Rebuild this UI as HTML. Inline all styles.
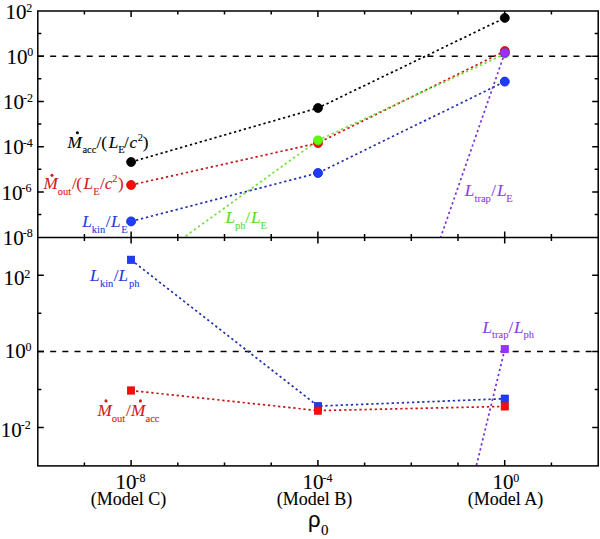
<!DOCTYPE html><html><head><meta charset="utf-8"><style>html,body{margin:0;padding:0;background:#fff;}svg{display:block;}text{font-family:"Liberation Serif",serif;stroke:currentColor;stroke-width:0.1px;}</style></head><body>
<svg width="600" height="539" viewBox="0 0 600 539">
<defs><clipPath id="ct"><rect x="37.80" y="11.00" width="560.40" height="226.45"/></clipPath>
<clipPath id="cb"><rect x="37.80" y="237.45" width="560.40" height="228.45"/></clipPath></defs>
<line x1="38" y1="56.24" x2="598.20" y2="56.24" stroke="#000" stroke-width="1.5" stroke-dasharray="6 6.17"/>
<line x1="38" y1="351.40" x2="598.20" y2="351.40" stroke="#000" stroke-width="1.5" stroke-dasharray="6 6.17"/>
<path d="M131.10 162.00 L318.00 108.00 L504.80 17.90" fill="none" stroke="#000" stroke-width="1.7" stroke-dasharray="2.3 2.8" clip-path="url(#ct)"/>
<path d="M131.10 185.00 L318.00 143.10 L504.80 51.00" fill="none" stroke="#c41616" stroke-width="1.7" stroke-dasharray="2.3 2.8" clip-path="url(#ct)"/>
<path d="M152.58 260.00 L318.00 140.40 L505.20 53.80" fill="none" stroke="#70e03c" stroke-width="1.7" stroke-dasharray="2.3 2.8" clip-path="url(#ct)"/>
<path d="M131.10 221.40 L318.00 173.00 L504.80 81.60" fill="none" stroke="#2230a8" stroke-width="1.7" stroke-dasharray="2.3 2.8" clip-path="url(#ct)"/>
<path d="M504.80 52.90 L440.70 237.20 L420.00 297.00" fill="none" stroke="#7a2ed0" stroke-width="1.7" stroke-dasharray="2.3 2.8" clip-path="url(#ct)"/>
<circle cx="131.10" cy="162.00" r="4.50" fill="#000" stroke="#000" stroke-width="0.8"/>
<circle cx="318.00" cy="108.00" r="4.50" fill="#000" stroke="#000" stroke-width="0.8"/>
<circle cx="504.80" cy="17.90" r="4.50" fill="#000" stroke="#000" stroke-width="0.8"/>
<circle cx="131.10" cy="185.00" r="4.50" fill="#ff0a0a" stroke="#d80000" stroke-width="0.8"/>
<circle cx="318.00" cy="143.10" r="4.50" fill="#ff0a0a" stroke="#d80000" stroke-width="0.8"/>
<circle cx="504.80" cy="51.00" r="4.50" fill="#ff0a0a" stroke="#d80000" stroke-width="0.8"/>
<circle cx="131.10" cy="221.40" r="4.50" fill="#1e3cff" stroke="#0a1ed2" stroke-width="0.8"/>
<circle cx="318.00" cy="173.00" r="4.50" fill="#1e3cff" stroke="#0a1ed2" stroke-width="0.8"/>
<circle cx="504.80" cy="81.60" r="4.50" fill="#1e3cff" stroke="#0a1ed2" stroke-width="0.8"/>
<circle cx="318.00" cy="140.40" r="4.50" fill="#5cff0c" stroke="#4ae000" stroke-width="0.8"/>
<circle cx="505.00" cy="53.40" r="4.50" fill="#5cff0c" stroke="#4ae000" stroke-width="0.8"/>
<circle cx="504.80" cy="52.90" r="4.50" fill="#9a30ff" stroke="#8020e0" stroke-width="0.8"/>
<path d="M131.00 259.80 L318.00 406.10 L504.80 398.70" fill="none" stroke="#2230a8" stroke-width="1.7" stroke-dasharray="2.3 2.8" clip-path="url(#cb)"/>
<path d="M131.00 390.50 L318.00 410.60 L504.80 406.40" fill="none" stroke="#c41616" stroke-width="1.7" stroke-dasharray="2.3 2.8" clip-path="url(#cb)"/>
<path d="M504.80 349.10 L476.40 465.60 L470.00 492.00" fill="none" stroke="#7a2ed0" stroke-width="1.7" stroke-dasharray="2.3 2.8" clip-path="url(#cb)"/>
<rect x="127.30" y="256.10" width="7.40" height="7.40" fill="#1e3cff" stroke="#0a1ed2" stroke-width="0.6"/>
<rect x="127.30" y="386.80" width="7.40" height="7.40" fill="#ff0a0a" stroke="#d80000" stroke-width="0.6"/>
<rect x="314.30" y="402.40" width="7.40" height="7.40" fill="#1e3cff" stroke="#0a1ed2" stroke-width="0.6"/>
<rect x="314.30" y="406.90" width="7.40" height="7.40" fill="#ff0a0a" stroke="#d80000" stroke-width="0.6"/>
<rect x="501.10" y="395.00" width="7.40" height="7.40" fill="#1e3cff" stroke="#0a1ed2" stroke-width="0.6"/>
<rect x="501.10" y="402.70" width="7.40" height="7.40" fill="#ff0a0a" stroke="#d80000" stroke-width="0.6"/>
<rect x="501.10" y="345.40" width="7.40" height="7.40" fill="#9a30ff" stroke="#8020e0" stroke-width="0.6"/>
<rect x="37.80" y="11.00" width="560.40" height="454.90" fill="none" stroke="#000" stroke-width="1.50"/>
<line x1="37.80" y1="237.45" x2="598.20" y2="237.45" stroke="#000" stroke-width="1.50"/>
<path d="M84.40 11.00v3.50M84.40 233.95v7.00M84.40 465.90v-3.50M131.10 11.00v6.00M131.10 231.45v12.00M131.10 465.90v-6.00M177.80 11.00v3.50M177.80 233.95v7.00M177.80 465.90v-3.50M224.50 11.00v3.50M224.50 233.95v7.00M224.50 465.90v-3.50M271.20 11.00v3.50M271.20 233.95v7.00M271.20 465.90v-3.50M317.90 11.00v6.00M317.90 231.45v12.00M317.90 465.90v-6.00M364.60 11.00v3.50M364.60 233.95v7.00M364.60 465.90v-3.50M411.30 11.00v3.50M411.30 233.95v7.00M411.30 465.90v-3.50M458.00 11.00v3.50M458.00 233.95v7.00M458.00 465.90v-3.50M504.70 11.00v6.00M504.70 231.45v12.00M504.70 465.90v-6.00M551.40 11.00v3.50M551.40 233.95v7.00M551.40 465.90v-3.50M37.80 214.58h3.50M598.20 214.58h-3.50M37.80 191.96h6.00M598.20 191.96h-6.00M37.80 169.34h3.50M598.20 169.34h-3.50M37.80 146.72h6.00M598.20 146.72h-6.00M37.80 124.10h3.50M598.20 124.10h-3.50M37.80 101.48h6.00M598.20 101.48h-6.00M37.80 78.86h3.50M598.20 78.86h-3.50M37.80 56.24h6.00M598.20 56.24h-6.00M37.80 33.62h3.50M598.20 33.62h-3.50M37.80 427.54h6.00M598.20 427.54h-6.00M37.80 389.47h3.50M598.20 389.47h-3.50M37.80 351.40h6.00M598.20 351.40h-6.00M37.80 313.33h3.50M598.20 313.33h-3.50M37.80 275.26h6.00M598.20 275.26h-6.00" stroke="#000" stroke-width="1.5" fill="none"/>
<text x="5.40" y="19.10" font-size="21">10<tspan font-size="12" dx="-0.2" dy="-7.30">2</tspan></text>
<text x="6.40" y="63.70" font-size="21">10<tspan font-size="12" dx="-0.2" dy="-7.30">0</tspan></text>
<text x="2.90" y="109.30" font-size="21">10<tspan font-size="12" dx="-0.9" dy="-7.30">-2</tspan></text>
<text x="2.70" y="154.40" font-size="21">10<tspan font-size="12" dx="-0.9" dy="-7.30">-4</tspan></text>
<text x="1.40" y="199.70" font-size="21">10<tspan font-size="12" dx="-0.9" dy="-7.30">-6</tspan></text>
<text x="2.70" y="244.70" font-size="21">10<tspan font-size="12" dx="-0.9" dy="-7.30">-8</tspan></text>
<text x="3.40" y="285.40" font-size="21">10<tspan font-size="12" dx="-0.2" dy="-7.30">2</tspan></text>
<text x="4.70" y="358.40" font-size="21">10<tspan font-size="12" dx="-0.2" dy="-7.30">0</tspan></text>
<text x="0.70" y="436.70" font-size="21">10<tspan font-size="12" dx="-0.9" dy="-7.30">-2</tspan></text>
<text x="115.40" y="489.00" font-size="21">10<tspan font-size="12" dx="-0.9" dy="-7.30">-8</tspan></text>
<text x="302.40" y="489.00" font-size="21">10<tspan font-size="12" dx="-0.9" dy="-7.30">-4</tspan></text>
<text x="492.40" y="489.00" font-size="21">10<tspan font-size="12" dx="-0.2" dy="-7.30">0</tspan></text>
<text x="90.80" y="505.3" font-size="18">(Model C)</text>
<text x="276.80" y="505.3" font-size="18">(Model B)</text>
<text x="467.80" y="505.3" font-size="18">(Model A)</text>
<text x="307.9" y="527.2" font-size="22" style="font-family:'Liberation Sans',sans-serif">ρ</text>
<text x="320.9" y="534.6" font-size="15">0</text>
<text x="67.60" y="147.50" font-size="17.2" font-style="italic" style="fill:#000;color:#000">M</text>
<text x="82.40" y="153.40" font-size="10.5" style="fill:#000;color:#000">acc</text>
<text x="96.50" y="147.50" font-size="17.2" style="fill:#000;color:#000">/(</text>
<text x="108.70" y="147.50" font-size="17.2" font-style="italic" style="fill:#000;color:#000">L</text>
<text x="118.20" y="153.40" font-size="10.5" style="fill:#000;color:#000">E</text>
<text x="124.00" y="147.50" font-size="17.2" style="fill:#000;color:#000">/</text>
<text x="129.55" y="147.50" font-size="17.2" font-style="italic" style="fill:#000;color:#000">c</text>
<text x="137.70" y="141.30" font-size="10.5" style="fill:#000;color:#000">2</text>
<text x="142.80" y="147.50" font-size="17.2" style="fill:#000;color:#000">)</text>
<circle cx="77.40" cy="132.70" r="1.55" fill="#000"/>
<text x="43.40" y="189.10" font-size="17.2" font-style="italic" style="fill:#d41a1a;color:#d41a1a">M</text>
<text x="57.80" y="194.60" font-size="10.5" style="fill:#d41a1a;color:#d41a1a">out</text>
<text x="72.00" y="189.10" font-size="17.2" style="fill:#d41a1a;color:#d41a1a">/</text>
<text x="76.20" y="189.10" font-size="17.2" style="fill:#d41a1a;color:#d41a1a">(</text>
<text x="83.40" y="189.10" font-size="17.2" font-style="italic" style="fill:#d41a1a;color:#d41a1a">L</text>
<text x="93.30" y="194.60" font-size="10.5" style="fill:#d41a1a;color:#d41a1a">E</text>
<text x="99.90" y="189.10" font-size="17.2" style="fill:#d41a1a;color:#d41a1a">/</text>
<text x="104.75" y="189.10" font-size="17.2" font-style="italic" style="fill:#d41a1a;color:#d41a1a">c</text>
<text x="112.30" y="182.30" font-size="10.5" style="fill:#d41a1a;color:#d41a1a">2</text>
<text x="118.00" y="189.10" font-size="17.2" style="fill:#d41a1a;color:#d41a1a">)</text>
<circle cx="52.00" cy="175.20" r="1.55" fill="#d41a1a"/>
<text x="82.20" y="227.10" font-size="17.2" font-style="italic" style="fill:#1e3cdc;color:#1e3cdc">L</text>
<text x="91.80" y="232.60" font-size="10.5" style="fill:#1e3cdc;color:#1e3cdc">kin</text>
<text x="105.70" y="227.10" font-size="17.2" style="fill:#1e3cdc;color:#1e3cdc">/</text>
<text x="110.90" y="227.10" font-size="17.2" font-style="italic" style="fill:#1e3cdc;color:#1e3cdc">L</text>
<text x="121.25" y="232.60" font-size="10.5" style="fill:#1e3cdc;color:#1e3cdc">E</text>
<text x="225.50" y="223.00" font-size="17.2" font-style="italic" style="fill:#55dd22;color:#55dd22">L</text>
<text x="234.90" y="228.60" font-size="10.5" style="fill:#55dd22;color:#55dd22">ph</text>
<text x="245.30" y="223.00" font-size="17.2" style="fill:#55dd22;color:#55dd22">/</text>
<text x="251.00" y="223.00" font-size="17.2" font-style="italic" style="fill:#55dd22;color:#55dd22">L</text>
<text x="260.50" y="228.60" font-size="10.5" style="fill:#55dd22;color:#55dd22">E</text>
<text x="464.80" y="195.60" font-size="17.2" font-style="italic" style="fill:#8c3ce6;color:#8c3ce6">L</text>
<text x="474.50" y="201.50" font-size="10.5" style="fill:#8c3ce6;color:#8c3ce6">trap</text>
<text x="491.30" y="195.60" font-size="17.2" style="fill:#8c3ce6;color:#8c3ce6">/</text>
<text x="496.90" y="195.60" font-size="17.2" font-style="italic" style="fill:#8c3ce6;color:#8c3ce6">L</text>
<text x="506.30" y="201.50" font-size="10.5" style="fill:#8c3ce6;color:#8c3ce6">E</text>
<text x="90.00" y="281.00" font-size="17.2" font-style="italic" style="fill:#1e3cdc;color:#1e3cdc">L</text>
<text x="99.90" y="287.00" font-size="10.5" style="fill:#1e3cdc;color:#1e3cdc">kin</text>
<text x="113.80" y="281.00" font-size="17.2" style="fill:#1e3cdc;color:#1e3cdc">/</text>
<text x="118.50" y="281.00" font-size="17.2" font-style="italic" style="fill:#1e3cdc;color:#1e3cdc">L</text>
<text x="129.10" y="287.00" font-size="10.5" style="fill:#1e3cdc;color:#1e3cdc">ph</text>
<text x="482.50" y="332.60" font-size="17.2" font-style="italic" style="fill:#8c3ce6;color:#8c3ce6">L</text>
<text x="492.10" y="338.40" font-size="10.5" style="fill:#8c3ce6;color:#8c3ce6">trap</text>
<text x="508.60" y="332.60" font-size="17.2" style="fill:#8c3ce6;color:#8c3ce6">/</text>
<text x="514.00" y="332.60" font-size="17.2" font-style="italic" style="fill:#8c3ce6;color:#8c3ce6">L</text>
<text x="523.50" y="338.40" font-size="10.5" style="fill:#8c3ce6;color:#8c3ce6">ph</text>
<text x="97.40" y="415.60" font-size="17.2" font-style="italic" style="fill:#d41a1a;color:#d41a1a">M</text>
<text x="111.80" y="421.90" font-size="10.5" style="fill:#d41a1a;color:#d41a1a">out</text>
<text x="125.90" y="415.60" font-size="17.2" style="fill:#d41a1a;color:#d41a1a">/</text>
<text x="131.10" y="415.60" font-size="17.2" font-style="italic" style="fill:#d41a1a;color:#d41a1a">M</text>
<text x="145.50" y="421.90" font-size="10.5" style="fill:#d41a1a;color:#d41a1a">acc</text>
<circle cx="106.00" cy="400.90" r="1.55" fill="#d41a1a"/>
<circle cx="140.40" cy="400.90" r="1.55" fill="#d41a1a"/>
</svg></body></html>
